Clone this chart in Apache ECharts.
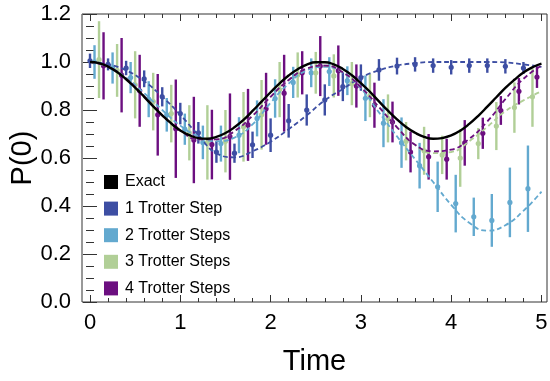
<!DOCTYPE html>
<html>
<head>
<meta charset="utf-8">
<script src="https://cdn.jsdelivr.net/npm/echarts@6/dist/echarts.min.js"></script>
<style>html,body{margin:0;padding:0;background:#fff;}#c{width:550px;height:381px;}</style>
</head>
<body>
<div id="c"></div>
<script>
// ---- Data ----
const xTickLabels = [0, 1, 2, 3, 4, 5];
const xMinorTicks = [0.2,0.4,0.6,0.8,1.2,1.4,1.6,1.8,2.2,2.4,2.6,2.8,3.2,3.4,3.6,3.8,4.2,4.4,4.6,4.8];
const yTickLabels = [0.0, 0.2, 0.4, 0.6, 0.8, 1.0, 1.2];

const legendNames = ['Exact', '1 Trotter Step', '2 Trotter Steps', '3 Trotter Steps', '4 Trotter Steps'];

// Exact curve
const tExact = [0,0.1,0.2,0.3,0.4,0.5,0.6,0.7,0.8,0.9,1.0,1.1,1.2,1.3,1.4,1.5,1.6,1.7,1.8,1.9,2.0,2.1,2.2,2.3,2.4,2.5,2.6,2.7,2.8,2.9,3.0,3.1,3.2,3.3,3.4,3.5,3.6,3.7,3.8,3.9,4.0,4.1,4.2,4.3,4.4,4.5,4.6,4.7,4.8,4.9,5.0];
const pExact = [1.000,0.995,0.981,0.958,0.928,0.893,0.855,0.815,0.778,0.744,0.715,0.695,0.683,0.680,0.688,0.704,0.728,0.759,0.796,0.835,0.874,0.911,0.944,0.970,0.989,0.999,0.999,0.990,0.971,0.945,0.912,0.876,0.836,0.797,0.761,0.729,0.705,0.688,0.680,0.683,0.694,0.714,0.742,0.776,0.814,0.853,0.892,0.926,0.956,0.978,0.993];

// Dashed fit curves
const tFit = [0,0.2,0.4,0.6,0.8,1.0,1.2,1.4,1.6,1.8,2.0,2.2,2.4,2.6,2.8,3.0,3.2,3.4,3.6,3.8,4.0,4.2,4.4,4.6,4.8,5.0];
const fit1 = [1.0,0.99,0.965,0.92,0.855,0.78,0.695,0.62,0.603,0.628,0.668,0.72,0.778,0.84,0.888,0.935,0.965,0.985,0.995,1.0,1.0,1.0,1.0,0.998,0.99,0.98];
const fit2 = [1.0,0.98,0.935,0.87,0.80,0.735,0.69,0.67,0.685,0.74,0.83,0.91,0.965,0.98,0.955,0.89,0.79,0.69,0.595,0.50,0.405,0.33,0.297,0.32,0.38,0.46];
const fit3 = [1.0,0.98,0.93,0.857,0.778,0.715,0.678,0.678,0.712,0.776,0.855,0.925,0.972,0.985,0.957,0.895,0.812,0.728,0.655,0.62,0.625,0.67,0.73,0.795,0.84,0.878];
const fit4 = [1.0,0.98,0.93,0.857,0.778,0.715,0.678,0.678,0.712,0.776,0.855,0.925,0.972,0.985,0.957,0.895,0.812,0.728,0.655,0.628,0.635,0.68,0.752,0.845,0.93,0.985];

// Measured points with error bars
const t1 = [0,0.2,0.4,0.6,0.8,1.0,1.2,1.4,1.6,1.8,2.0,2.2,2.4,2.6,2.8,3.0,3.2,3.4,3.6,3.8,4.0,4.2,4.4,4.6,4.8];
const p1 = [1.005,0.99,0.975,0.93,0.855,0.785,0.705,0.625,0.62,0.655,0.695,0.755,0.80,0.842,0.897,0.935,0.967,0.983,0.99,0.985,0.978,0.985,0.985,0.982,0.975];
const e1 = [0.03,0.025,0.03,0.035,0.04,0.045,0.045,0.045,0.04,0.055,0.07,0.07,0.065,0.065,0.06,0.055,0.045,0.035,0.03,0.03,0.03,0.03,0.03,0.03,0.025];

const t2 = [0.05,0.25,0.45,0.65,0.85,1.05,1.25,1.45,1.65,1.85,2.05,2.25,2.45,2.65,2.85,3.05,3.25,3.45,3.65,3.85,4.05,4.25,4.45,4.65,4.85];
const p2 = [1.0,0.975,0.935,0.845,0.78,0.72,0.665,0.66,0.695,0.765,0.848,0.915,0.955,0.96,0.922,0.849,0.745,0.664,0.568,0.48,0.41,0.355,0.34,0.415,0.472];
const e2 = [0.07,0.065,0.065,0.075,0.07,0.065,0.07,0.075,0.075,0.075,0.08,0.065,0.06,0.06,0.06,0.095,0.1,0.105,0.095,0.105,0.12,0.08,0.11,0.145,0.18];

const t3 = [0.1,0.3,0.5,0.7,0.9,1.1,1.3,1.5,1.7,1.9,2.1,2.3,2.5,2.7,2.9,3.1,3.3,3.5,3.7,3.9,4.1,4.3,4.5,4.7,4.9];
const p3 = [1.01,0.965,0.905,0.835,0.785,0.705,0.665,0.67,0.73,0.78,0.885,0.946,0.955,0.942,0.91,0.86,0.765,0.67,0.63,0.613,0.6,0.66,0.733,0.81,0.855];
const e3 = [0.16,0.11,0.14,0.12,0.12,0.115,0.155,0.13,0.145,0.145,0.115,0.094,0.087,0.09,0.09,0.09,0.1,0.08,0.1,0.08,0.12,0.065,0.1,0.105,0.125];

const t4 = [0.15,0.35,0.55,0.75,0.95,1.15,1.35,1.55,1.75,1.95,2.15,2.35,2.55,2.75,2.95,3.15,3.35,3.55,3.75,3.95,4.15,4.35,4.55,4.75,4.95];
const p4 = [0.984,0.945,0.88,0.78,0.722,0.675,0.656,0.689,0.738,0.805,0.87,0.955,0.983,0.964,0.9,0.82,0.75,0.625,0.605,0.595,0.663,0.703,0.798,0.878,0.937];
const e4 = [0.14,0.155,0.15,0.17,0.205,0.18,0.145,0.18,0.15,0.15,0.16,0.09,0.125,0.105,0.09,0.094,0.085,0.085,0.095,0.085,0.095,0.065,0.06,0.055,0.045];

// ---- Styling ----
const colors = ['#000000', '#3d4ea3', '#63a9cf', '#b1cf97', '#6c0f80'];
const FONT = '"Liberation Sans", Arial, Helvetica, sans-serif';
const XMIN = -0.0886, XMAX = 5.061;

function zip(xs, ys) { return xs.map((x, i) => [x, ys[i]]); }
function zip3(xs, ys, es) { return xs.map((x, i) => [x, ys[i], es[i]]); }

function errSeries(name, color, ts, ps, es) {
  return {
    name: name, type: 'custom', z: 2,
    itemStyle: { color: color },
    data: zip3(ts, ps, es),
    encode: { x: 0, y: 1 },
    renderItem: function (params, api) {
      const x = api.value(0), y = api.value(1), e = api.value(2);
      const a = api.coord([x, y + e]), b = api.coord([x, y - e]), c = api.coord([x, y]);
      return {
        type: 'group',
        children: [
          { type: 'line', shape: { x1: a[0], y1: a[1], x2: b[0], y2: b[1] }, style: { stroke: color, lineWidth: 2.4 } },
          { type: 'circle', shape: { cx: c[0], cy: c[1], r: 2.6 }, style: { fill: color } }
        ]
      };
    }
  };
}
function fitSeries(name, color, ys) {
  return {
    name: name, type: 'line', z: 3, smooth: true, showSymbol: false, symbol: 'none',
    data: zip(tFit, ys),
    lineStyle: { color: color, width: 1.8, type: [5, 3] },
    itemStyle: { color: color }
  };
}

function xAxisDef(pos, values, len, labels) {
  return {
    type: 'value', position: pos, min: XMIN, max: XMAX,
    axisLine: { show: false }, splitLine: { show: false },
    axisTick: { show: true, inside: true, length: len, customValues: values, lineStyle: { color: '#333', width: 1 } },
    axisLabel: labels ? { show: true, customValues: xTickLabels, margin: 10, color: '#000', fontSize: 22, fontFamily: FONT } : { show: false }
  };
}
function yAxisDef(pos, labels) {
  return {
    type: 'value', position: pos, min: 0, max: 1.2, interval: 0.2,
    axisLine: { show: false }, splitLine: { show: false },
    axisTick: { show: true, inside: true, length: 7, lineStyle: { color: '#333', width: 1 } },
    minorTick: { show: true, splitNumber: 4, length: 4, lineStyle: { color: '#333', width: 1 } },
    minorSplitLine: { show: false },
    axisLabel: labels ? { show: true, margin: 11, color: '#000', fontSize: 22, fontFamily: FONT, formatter: v => v.toFixed(1) } : { show: false }
  };
}

const xAxes = [
  Object.assign(xAxisDef('bottom', xTickLabels, 7, true), { name: 'Time', nameLocation: 'middle', nameGap: 45, nameMoveOverlap: false, nameTextStyle: { fontSize: 29, fontFamily: FONT, color: '#000' } }),
  xAxisDef('bottom', xMinorTicks, 4, false),
  xAxisDef('top', xTickLabels, 7, false),
  xAxisDef('top', xMinorTicks, 4, false)
];
const yAxes = [
  Object.assign(yAxisDef('left', true), { name: 'P(0)', nameLocation: 'middle', nameGap: 45, nameRotate: 90, nameMoveOverlap: false, nameTextStyle: { fontSize: 29, fontFamily: FONT, color: '#000' } }),
  yAxisDef('right', false)
];

const option = {
  animation: false,
  backgroundColor: '#fff',
  textStyle: { fontFamily: FONT },
  grid: { left: 82, right: 3, top: 14, bottom: 79, containLabel: false, outerBoundsMode: 'none',
          show: true, borderColor: '#333', borderWidth: 1, backgroundColor: 'transparent' },
  xAxis: xAxes,
  yAxis: yAxes,
  legend: {
    data: legendNames, orient: 'vertical', left: 99, top: 169, icon: 'rect',
    itemWidth: 14, itemHeight: 14, itemGap: 10.6,
    textStyle: { fontSize: 16, color: '#000', fontFamily: FONT, padding: [0, 0, 0, 2] },
    selectedMode: false
  },
  series: [
    errSeries(legendNames[1], colors[1], t1, p1, e1),
    errSeries(legendNames[2], colors[2], t2, p2, e2),
    errSeries(legendNames[3], colors[3], t3, p3, e3),
    errSeries(legendNames[4], colors[4], t4, p4, e4),
    fitSeries('fit1', colors[1], fit1),
    fitSeries('fit2', colors[2], fit2),
    fitSeries('fit3', colors[3], fit3),
    fitSeries('fit4', colors[4], fit4),
    {
      name: legendNames[0], type: 'line', z: 4, smooth: true, showSymbol: false, symbol: 'none',
      data: zip(tExact, pExact),
      lineStyle: { color: colors[0], width: 2.4 },
      itemStyle: { color: colors[0] }
    }
  ]
};

const chart = echarts.init(document.getElementById('c'), null, { renderer: 'canvas' });
chart.setOption(option);
</script>
</body>
</html>
